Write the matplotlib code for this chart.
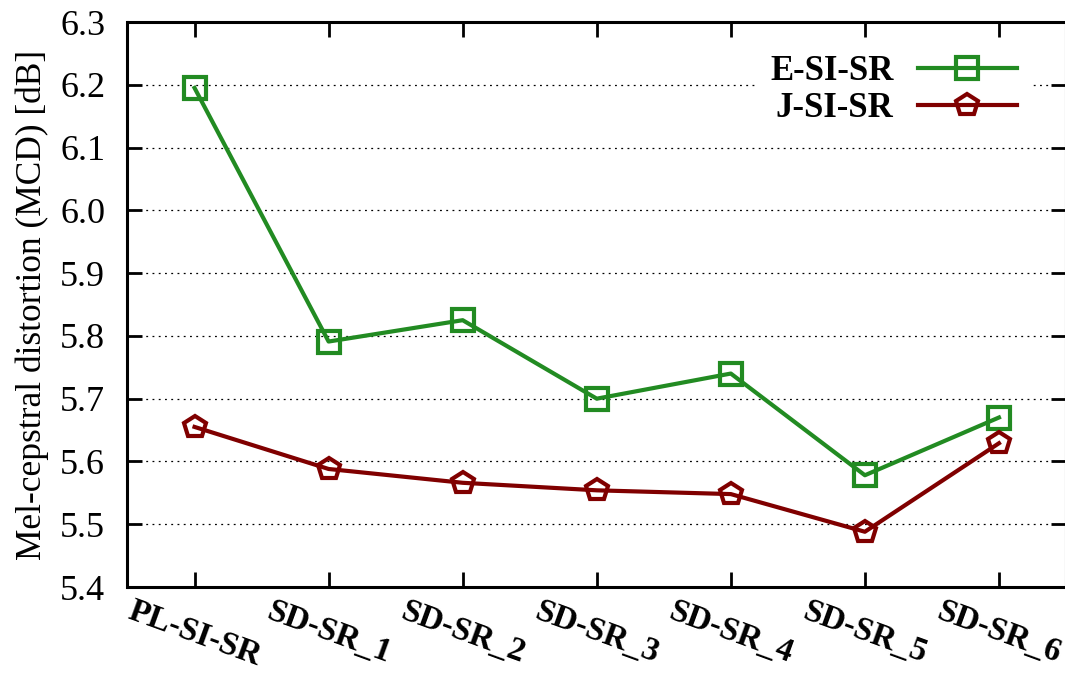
import matplotlib
matplotlib.use("Agg")
import matplotlib.pyplot as plt

categories = ["PL-SI-SR", "SD-SR_1", "SD-SR_2", "SD-SR_3", "SD-SR_4", "SD-SR_5", "SD-SR_6"]
e_si_sr = [6.195, 5.791, 5.825, 5.700, 5.740, 5.578, 5.670]
j_si_sr = [5.655, 5.588, 5.566, 5.554, 5.548, 5.488, 5.629]
yticks = [5.4, 5.5, 5.6, 5.7, 5.8, 5.9, 6.0, 6.1, 6.2, 6.3]

plt.rcParams['font.family'] = ['Liberation Serif', 'DejaVu Serif']

fig = plt.figure(figsize=(10.65, 6.75), dpi=100)
ax = fig.add_axes([127.5 / 1065, 1 - 587 / 675, (1066 - 127.5) / 1065, (587 - 22) / 675])

x = list(range(len(categories)))
ax.plot(x, e_si_sr, color='#228B22', lw=3.0, marker='s', ms=16.5, mew=3.0,
        mfc='none', mec='#228B22', label='E-SI-SR', zorder=3)
ax.plot(x, j_si_sr, color='#800000', lw=3.0, marker='p', ms=16.5, mew=3.0,
        mfc='none', mec='#800000', label='J-SI-SR', zorder=3)

ax.set_xlim(-0.5, 6.5)
ax.set_ylim(5.4, 6.3)
ax.set_yticks(yticks)
ax.set_yticklabels([f"{v:.1f}" for v in yticks], fontsize=26)
ax.set_xticks(x)
ax.set_xticklabels(categories, fontsize=24, fontweight='bold', rotation=-20,
                   ha='center', va='top')
ax.tick_params(axis='both', direction='in', length=11, width=2.0,
               top=True, right=True)
ax.tick_params(axis='y', pad=16)
ax.tick_params(axis='x', pad=6)
for s in ax.spines.values():
    s.set_linewidth(2.2)

ax.yaxis.grid(True, linestyle=(0, (1.5, 3.5)), color='black', linewidth=0.9)
ax.set_axisbelow(True)

ax.set_ylabel("Mel-cepstral distortion (MCD) [dB]", fontsize=25.5, labelpad=8)

leg = ax.legend(loc='upper right', bbox_to_anchor=(0.981, 0.997), markerfirst=False,
                frameon=True, fancybox=False, edgecolor='none', facecolor='white',
                framealpha=1, prop={'weight': 'bold', 'size': 25},
                handlelength=2.85, labelspacing=0.12, borderpad=0.4,
                handletextpad=0.7)

fig.savefig("out.png", dpi=100)
